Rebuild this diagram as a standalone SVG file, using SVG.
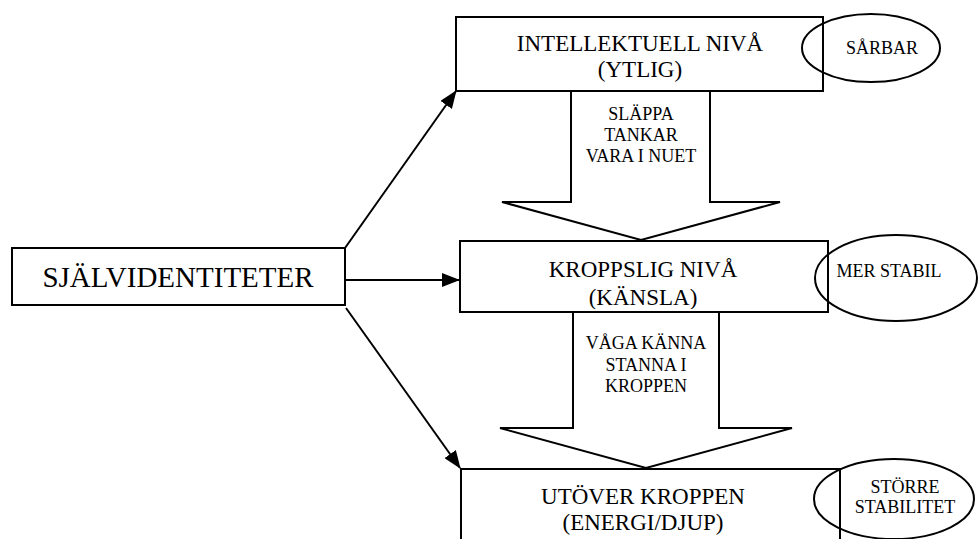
<svg xmlns="http://www.w3.org/2000/svg" width="979" height="539" viewBox="0 0 979 539" font-family="'Liberation Serif', 'Times New Roman', 'DejaVu Serif', serif">
<style>
.box{fill:#fff;stroke:#000;stroke-width:2}
.ell{fill:none;stroke:#000;stroke-width:2}
.blk{fill:#fff;stroke:#000;stroke-width:2;stroke-linejoin:miter}
.conn{stroke:#000;stroke-width:2;fill:none}
text{font-family:'Liberation Serif', 'Times New Roman', 'DejaVu Serif', serif;fill:#000;text-anchor:middle}
.big{font-size:29px}
.t{font-size:23px}
.s{font-size:18px}
</style>
<defs>
<marker id="ah2" markerWidth="18" markerHeight="14" refX="17" refY="7" orient="auto" markerUnits="userSpaceOnUse" viewBox="0 0 18 14">
<path d="M0,0 L18,7 L0,14 Z" fill="#000"/>
</marker>
<clipPath id="clipMid"><rect x="461" y="242" width="366" height="67"/></clipPath>
</defs>

<g id="n-self">
<rect class="box" x="12" y="248" width="333" height="57"/>
<text class="big" x="178" y="287">SJÄLVIDENTITETER</text>
</g>

<g id="n-intellektuell">
<rect class="box" x="456" y="17" width="367" height="74"/>
<text class="t" x="640" y="51">INTELLEKTUELL NIVÅ</text>
<text class="t" x="640" y="77">(YTLIG)</text>
</g>

<g id="n-sarbar">
<ellipse class="ell" cx="871" cy="48" rx="69" ry="34"/>
<text class="s" x="882" y="54">SÅRBAR</text>
</g>

<g id="n-arrow1">
<path class="blk" d="M571,91 L710,91 L710,202 L780,202 L641,240 L502,202 L571,202 Z"/>
<text class="s" x="641" y="120">SLÄPPA</text>
<text class="s" x="641" y="141">TANKAR</text>
<text class="s" x="641" y="162">VARA I NUET</text>
</g>

<g id="n-kroppslig">
<rect class="box" x="460" y="241" width="368" height="71"/>
<g clip-path="url(#clipMid)">
<text class="t" x="643" y="277">KROPPSLIG NIVÅ</text>
<text class="t" x="643" y="305">(KÄNSLA)</text>
</g>
</g>

<g id="n-merstabil">
<ellipse class="ell" cx="896" cy="278" rx="81" ry="43"/>
<text class="s" x="889" y="277">MER STABIL</text>
</g>

<g id="n-arrow2">
<path class="blk" d="M573,312 L719,312 L719,428 L792,428 L646,468 L500,428 L573,428 Z"/>
<text class="s" x="646" y="349">VÅGA KÄNNA</text>
<text class="s" x="646" y="371">STANNA I</text>
<text class="s" x="646" y="392">KROPPEN</text>
</g>

<g id="n-utover">
<rect class="box" x="461" y="469" width="379" height="80"/>
<text class="t" x="643" y="504">UTÖVER KROPPEN</text>
<text class="t" x="643" y="530">(ENERGI/DJUP)</text>
</g>

<g id="n-storre">
<ellipse class="ell" cx="894" cy="499" rx="80" ry="40"/>
<text class="s" x="905" y="493">STÖRRE</text>
<text class="s" x="905" y="513">STABILITET</text>
</g>

<g id="connectors">
<line class="conn" x1="345" y1="248" x2="456" y2="91" marker-end="url(#ah2)"/>
<line class="conn" x1="345" y1="280" x2="459" y2="280" marker-end="url(#ah2)"/>
<line class="conn" x1="346" y1="308" x2="460" y2="468" marker-end="url(#ah2)"/>
</g>
</svg>
